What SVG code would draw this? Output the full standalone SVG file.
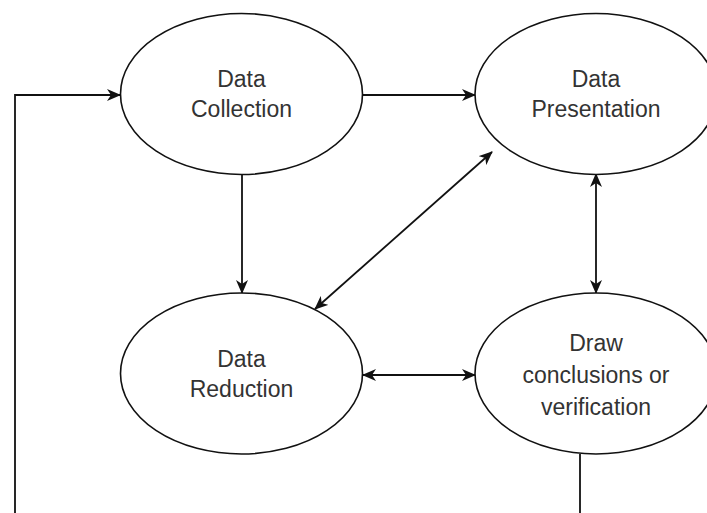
<svg xmlns="http://www.w3.org/2000/svg" width="707" height="513" viewBox="0 0 707 513">
<style>
.n{fill:#fff;stroke:#111;stroke-width:1.6}
.t{font-family:"Liberation Sans",Arial,sans-serif;font-size:23px;fill:#333;text-anchor:middle}
.c{fill:none;stroke:#111;stroke-width:1.8}
</style>
<defs>
<marker id="a" viewBox="0 0 14 12" refX="13" refY="6" markerWidth="14" markerHeight="12" markerUnits="userSpaceOnUse" orient="auto-start-reverse">
<path d="M0,0 L14,6 L0,12 L4,6 Z" fill="#111"/>
</marker>
</defs>
<rect width="707" height="513" fill="#fff"/>
<g id="connectors">
<path class="c" d="M15,513 V95 H120" marker-end="url(#a)"/>
<path class="c" d="M363,95 H475" marker-end="url(#a)"/>
<path class="c" d="M242,174 V293" marker-end="url(#a)"/>
<path class="c" d="M492,152 L315,309" marker-start="url(#a)" marker-end="url(#a)"/>
<path class="c" d="M596,174 V293" marker-start="url(#a)" marker-end="url(#a)"/>
<path class="c" d="M363,375 H475" marker-start="url(#a)" marker-end="url(#a)"/>
<path class="c" d="M580,454 V513"/>
</g>
<g id="data-collection">
<ellipse class="n" cx="241.5" cy="94" rx="121" ry="80.5"/>
<text class="t" x="241.5" y="87">Data</text>
<text class="t" x="241.5" y="117">Collection</text>
</g>
<g id="data-presentation">
<ellipse class="n" cx="596" cy="94" rx="121" ry="80.5"/>
<text class="t" x="596" y="87">Data</text>
<text class="t" x="596" y="117">Presentation</text>
</g>
<g id="data-reduction">
<ellipse class="n" cx="241.5" cy="373.5" rx="121" ry="80.5"/>
<text class="t" x="241.5" y="367">Data</text>
<text class="t" x="241.5" y="397">Reduction</text>
</g>
<g id="draw-conclusions">
<ellipse class="n" cx="596" cy="373.5" rx="121" ry="80.5"/>
<text class="t" x="596" y="351">Draw</text>
<text class="t" x="596" y="383">conclusions or</text>
<text class="t" x="596" y="415">verification</text>
</g>
</svg>
